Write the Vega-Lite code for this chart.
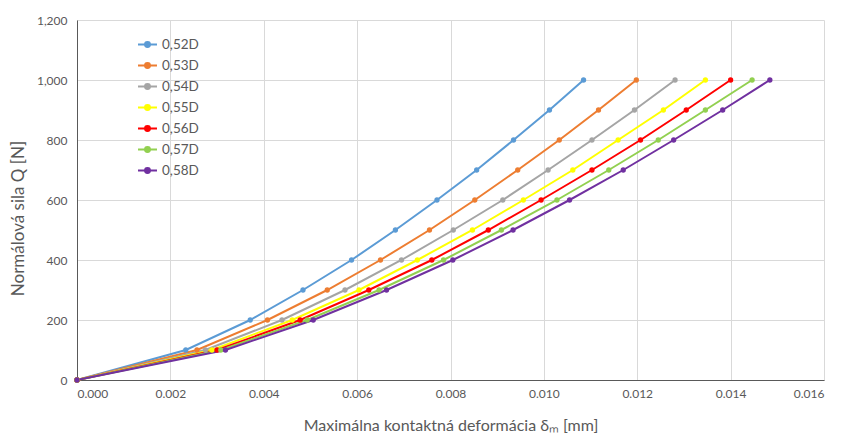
{
  "$schema": "https://vega.github.io/schema/vega-lite/v6.json",
  "width": 747,
  "height": 360,
  "autosize": "none",
  "padding": {"left": 77, "top": 20, "right": 17, "bottom": 55},
  "background": "white",
  "config": {
    "view": {"stroke": null},
    "font": "Lato",
    "axis": {
      "labelFont": "Lato", "titleFont": "Lato",
      "labelColor": "#595959", "titleColor": "#595959",
      "labelFontSize": 12, "titleFontSize": 14, "titleFontWeight": "normal",
      "gridColor": "#D9D9D9", "gridWidth": 1,
      "domainColor": "#595959", "domainWidth": 1,
      "ticks": false
    }
  },
  "data": {
    "values": [
      {"s": "0,52D", "x": 0, "q": 0}, {"s": "0,52D", "x": 0.00233, "q": 100}, {"s": "0,52D", "x": 0.00371, "q": 200}, {"s": "0,52D", "x": 0.00484, "q": 300}, {"s": "0,52D", "x": 0.00588, "q": 400}, {"s": "0,52D", "x": 0.00682, "q": 500}, {"s": "0,52D", "x": 0.00771, "q": 600}, {"s": "0,52D", "x": 0.00856, "q": 700}, {"s": "0,52D", "x": 0.00935, "q": 800}, {"s": "0,52D", "x": 0.01012, "q": 900}, {"s": "0,52D", "x": 0.01085, "q": 1000},
      {"s": "0,53D", "x": 0, "q": 0}, {"s": "0,53D", "x": 0.00257, "q": 100}, {"s": "0,53D", "x": 0.00408, "q": 200}, {"s": "0,53D", "x": 0.00536, "q": 300}, {"s": "0,53D", "x": 0.0065, "q": 400}, {"s": "0,53D", "x": 0.00755, "q": 500}, {"s": "0,53D", "x": 0.00852, "q": 600}, {"s": "0,53D", "x": 0.00944, "q": 700}, {"s": "0,53D", "x": 0.01033, "q": 800}, {"s": "0,53D", "x": 0.01117, "q": 900}, {"s": "0,53D", "x": 0.01198, "q": 1000},
      {"s": "0,54D", "x": 0, "q": 0}, {"s": "0,54D", "x": 0.00275, "q": 100}, {"s": "0,54D", "x": 0.00439, "q": 200}, {"s": "0,54D", "x": 0.00574, "q": 300}, {"s": "0,54D", "x": 0.00695, "q": 400}, {"s": "0,54D", "x": 0.00806, "q": 500}, {"s": "0,54D", "x": 0.00912, "q": 600}, {"s": "0,54D", "x": 0.01009, "q": 700}, {"s": "0,54D", "x": 0.01103, "q": 800}, {"s": "0,54D", "x": 0.01194, "q": 900}, {"s": "0,54D", "x": 0.01281, "q": 1000},
      {"s": "0,55D", "x": 0, "q": 0}, {"s": "0,55D", "x": 0.00289, "q": 100}, {"s": "0,55D", "x": 0.00461, "q": 200}, {"s": "0,55D", "x": 0.00604, "q": 300}, {"s": "0,55D", "x": 0.00729, "q": 400}, {"s": "0,55D", "x": 0.00847, "q": 500}, {"s": "0,55D", "x": 0.00956, "q": 600}, {"s": "0,55D", "x": 0.01062, "q": 700}, {"s": "0,55D", "x": 0.01159, "q": 800}, {"s": "0,55D", "x": 0.01256, "q": 900}, {"s": "0,55D", "x": 0.01346, "q": 1000},
      {"s": "0,56D", "x": 0, "q": 0}, {"s": "0,56D", "x": 0.003, "q": 100}, {"s": "0,56D", "x": 0.00478, "q": 200}, {"s": "0,56D", "x": 0.00625, "q": 300}, {"s": "0,56D", "x": 0.0076, "q": 400}, {"s": "0,56D", "x": 0.00881, "q": 500}, {"s": "0,56D", "x": 0.00994, "q": 600}, {"s": "0,56D", "x": 0.01103, "q": 700}, {"s": "0,56D", "x": 0.01207, "q": 800}, {"s": "0,56D", "x": 0.01305, "q": 900}, {"s": "0,56D", "x": 0.014, "q": 1000},
      {"s": "0,57D", "x": 0, "q": 0}, {"s": "0,57D", "x": 0.00308, "q": 100}, {"s": "0,57D", "x": 0.00493, "q": 200}, {"s": "0,57D", "x": 0.00647, "q": 300}, {"s": "0,57D", "x": 0.00785, "q": 400}, {"s": "0,57D", "x": 0.00909, "q": 500}, {"s": "0,57D", "x": 0.01028, "q": 600}, {"s": "0,57D", "x": 0.01139, "q": 700}, {"s": "0,57D", "x": 0.01245, "q": 800}, {"s": "0,57D", "x": 0.01346, "q": 900}, {"s": "0,57D", "x": 0.01446, "q": 1000},
      {"s": "0,58D", "x": 0, "q": 0}, {"s": "0,58D", "x": 0.00318, "q": 100}, {"s": "0,58D", "x": 0.00506, "q": 200}, {"s": "0,58D", "x": 0.00663, "q": 300}, {"s": "0,58D", "x": 0.00805, "q": 400}, {"s": "0,58D", "x": 0.00934, "q": 500}, {"s": "0,58D", "x": 0.01055, "q": 600}, {"s": "0,58D", "x": 0.0117, "q": 700}, {"s": "0,58D", "x": 0.01278, "q": 800}, {"s": "0,58D", "x": 0.01383, "q": 900}, {"s": "0,58D", "x": 0.01484, "q": 1000}
    ]
  },
  "mark": {"type": "line", "strokeWidth": 2, "point": {"size": 28, "filled": true}},
  "encoding": {
    "x": {
      "field": "x", "type": "quantitative",
      "scale": {"domain": [0, 0.016], "nice": false},
      "axis": {"values": [0, 0.002, 0.004, 0.006, 0.008, 0.01, 0.012, 0.014, 0.016], "format": ".3f", "labelPadding": 8, "title": "Maximálna kontaktná deformácia δₘ [mm]", "titleY": 45, "titleBaseline": "middle", "titleFontSize": 16}
    },
    "y": {
      "field": "q", "type": "quantitative",
      "scale": {"domain": [0, 1200], "nice": false},
      "axis": {"values": [0, 200, 400, 600, 800, 1000, 1200], "format": ",d", "labelPadding": 10, "title": "Normálová sila Q [N]", "titleX": -59, "titleY": 198, "titleBaseline": "middle", "titleAlign": "center", "titleAngle": -90, "titleFontSize": 17}
    },
    "color": {
      "field": "s", "type": "nominal",
      "scale": {"domain": ["0,52D", "0,53D", "0,54D", "0,55D", "0,56D", "0,57D", "0,58D"], "range": ["#5B9BD5", "#ED7D31", "#A5A5A5", "#FFFF00", "#FF0000", "#92D050", "#7030A0"]},
      "legend": {
        "title": null, "orient": "none", "legendX": 60, "legendY": 14,
        "labelFont": "Lato", "labelFontSize": 13.5, "labelColor": "#595959",
        "symbolType": "M-1,0H1M0.26,0A0.26,0.26,0,1,1,-0.26,0A0.26,0.26,0,1,1,0.26,0",
        "symbolSize": 360, "symbolStrokeWidth": 2, "rowPadding": 4, "labelOffset": 4, "padding": 0
      }
    }
  }
}
